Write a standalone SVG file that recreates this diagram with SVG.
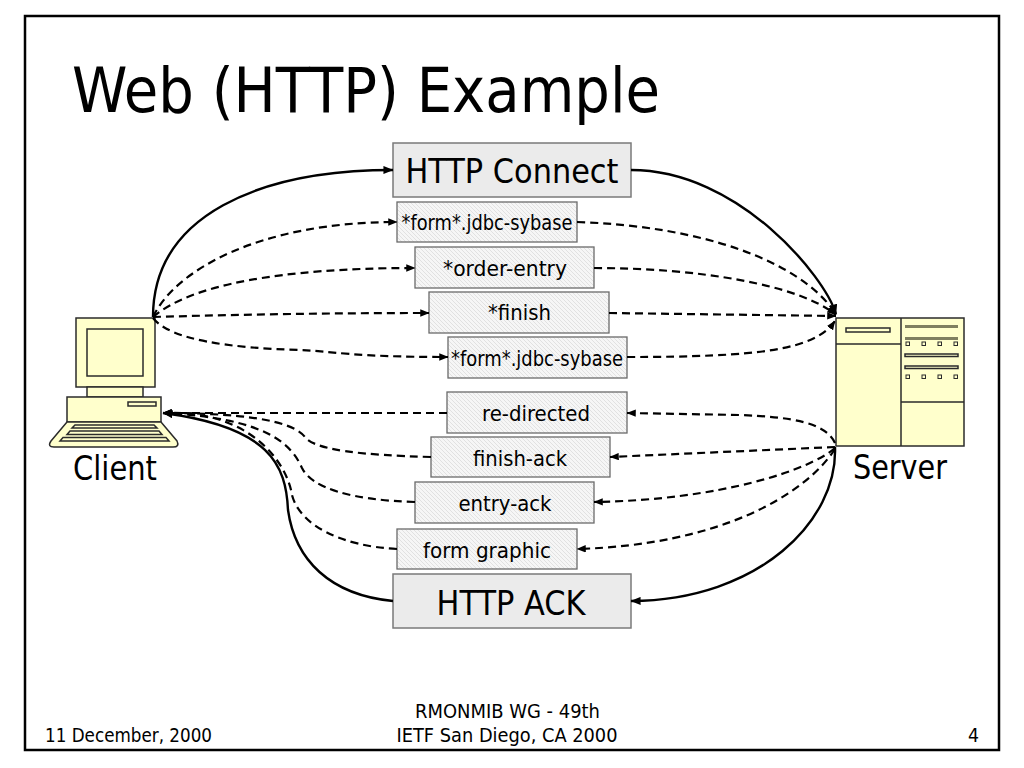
<svg xmlns="http://www.w3.org/2000/svg" width="1024" height="768" viewBox="0 0 1024 768">
<defs>
  <style>
    .t { font-family: "DejaVu Sans Condensed", "DejaVu Sans", Verdana, sans-serif; fill: #000; }
    .big { fill: #ebebeb; stroke: #7a7a7a; stroke-width: 1.5; }
    .small { fill: url(#hatch); stroke: #6a6a6a; stroke-width: 1.3; }
    .yel { fill: #ffffcc; stroke: #2b2b2b; stroke-width: 1.5; }
    .solid { fill: none; stroke: #000; stroke-width: 2.4; marker-end: url(#arr); }
    .dash { fill: none; stroke: #000; stroke-width: 2.2; stroke-dasharray: 8 5; marker-end: url(#arr); }
  </style>
  <pattern id="hatch" width="4" height="4" patternUnits="userSpaceOnUse">
    <rect width="4" height="4" fill="#f6f6f6"/>
    <path d="M-1,-1 L5,5 M-1,3 L1,5 M3,-1 L5,1" stroke="#dcdcdc" stroke-width="0.8"/>
  </pattern>
  <marker id="arr" viewBox="0 0 10 8" refX="9.5" refY="4" markerWidth="4.2" markerHeight="3.4" orient="auto" markerUnits="strokeWidth">
    <path d="M0,0 L10,4 L0,8 Z" fill="#000"/>
  </marker>
</defs>
<rect width="1024" height="768" fill="#fff"/>
<rect x="25" y="16" width="974" height="734" fill="none" stroke="#000" stroke-width="2.5"/>

<text class="t" x="72" y="112" font-size="62" textLength="588" lengthAdjust="spacingAndGlyphs">Web (HTTP) Example</text>

<g id="node-client">
  <rect class="yel" x="76" y="318" width="79" height="69"/>
  <rect class="yel" x="87" y="329" width="56" height="47"/>
  <rect class="yel" x="87" y="387" width="56" height="10"/>
  <rect class="yel" x="67" y="397" width="94" height="25"/>
  <rect class="yel" x="128" y="402" width="28" height="4" stroke-width="1.2"/>
  <path class="yel" d="M67,422 L161,422 L177,441 Q180,447 173,447 L54,447 Q47,447 51,441 Z"/>
  <path class="yel" stroke-width="1.1" d="M75,425 L154,425 L157,428 L72,428 Z M70,431 L159,431 L162,434.5 L67,434.5 Z M63,437.5 L166,437.5 L169,441 L60,441 Z"/>
  <text class="t" x="73" y="480" font-size="34" textLength="84" lengthAdjust="spacingAndGlyphs">Client</text>
</g>

<g id="node-server">
  <rect class="yel" x="836" y="318" width="128" height="128"/>
  <path d="M901,318 V446 M836,344 H901 M901,402 H964" stroke="#2b2b2b" stroke-width="1.5" fill="none"/>
  <rect class="yel" x="846" y="328" width="44" height="4" stroke-width="1.2"/>
  <rect x="905" y="325" width="53" height="3" fill="#7f7f5f"/>
  <rect x="905" y="337" width="53" height="3" fill="#7f7f5f"/>
  <rect class="yel" x="905" y="354" width="53" height="2.5" stroke-width="1"/>
  <rect class="yel" x="905" y="366" width="53" height="2.5" stroke-width="1"/>
  <g fill="#ffffcc" stroke="#2b2b2b" stroke-width="1">
    <rect x="906" y="342" width="3.5" height="3.5"/>
    <rect x="922" y="342" width="3.5" height="3.5"/>
    <rect x="938" y="342" width="3.5" height="3.5"/>
    <rect x="954" y="342" width="3.5" height="3.5"/>
    <rect x="906" y="375" width="3.5" height="3.5"/>
    <rect x="922" y="375" width="3.5" height="3.5"/>
    <rect x="938" y="375" width="3.5" height="3.5"/>
    <rect x="954" y="375" width="3.5" height="3.5"/>
  </g>
  <text class="t" x="853" y="479" font-size="34" textLength="94" lengthAdjust="spacingAndGlyphs">Server</text>
</g>

<g id="node-http-connect">
  <rect class="big" x="393" y="143" width="238" height="54"/>
  <text class="t" x="512" y="183" font-size="34" text-anchor="middle" textLength="213" lengthAdjust="spacingAndGlyphs">HTTP Connect</text>
</g>
<g id="node-form-req1">
  <rect class="small" x="397" y="202" width="180" height="40"/>
  <text class="t" x="487" y="230" font-size="21" text-anchor="middle" textLength="171" lengthAdjust="spacingAndGlyphs">*form*.jdbc-sybase</text>
</g>
<g id="node-order-entry">
  <rect class="small" x="415" y="247" width="179" height="41"/>
  <text class="t" x="505" y="276" font-size="22" text-anchor="middle" textLength="124" lengthAdjust="spacingAndGlyphs">*order-entry</text>
</g>
<g id="node-finish">
  <rect class="small" x="429" y="292" width="180" height="41"/>
  <text class="t" x="519.5" y="320" font-size="22" text-anchor="middle" textLength="63" lengthAdjust="spacingAndGlyphs">*finish</text>
</g>
<g id="node-form-req2">
  <rect class="small" x="448" y="337" width="179" height="41"/>
  <text class="t" x="537" y="366" font-size="21" text-anchor="middle" textLength="172" lengthAdjust="spacingAndGlyphs">*form*.jdbc-sybase</text>
</g>
<g id="node-re-directed">
  <rect class="small" x="447" y="392" width="180" height="41"/>
  <text class="t" x="536" y="421" font-size="22" text-anchor="middle" textLength="108" lengthAdjust="spacingAndGlyphs">re-directed</text>
</g>
<g id="node-finish-ack">
  <rect class="small" x="431" y="437" width="179" height="40"/>
  <text class="t" x="520" y="466" font-size="22" text-anchor="middle" textLength="94" lengthAdjust="spacingAndGlyphs">finish-ack</text>
</g>
<g id="node-entry-ack">
  <rect class="small" x="415" y="482" width="179" height="41"/>
  <text class="t" x="505" y="511" font-size="22" text-anchor="middle" textLength="93" lengthAdjust="spacingAndGlyphs">entry-ack</text>
</g>
<g id="node-form-graphic">
  <rect class="small" x="397" y="529" width="180" height="40"/>
  <text class="t" x="487" y="558" font-size="22" text-anchor="middle" textLength="128" lengthAdjust="spacingAndGlyphs">form graphic</text>
</g>
<g id="node-http-ack">
  <rect class="big" x="393" y="574" width="238" height="54"/>
  <text class="t" x="511" y="615" font-size="34" text-anchor="middle" textLength="149" lengthAdjust="spacingAndGlyphs">HTTP ACK</text>
</g>

<g id="connectors">
  <!-- client to request boxes -->
  <path class="solid" d="M153,317 C153,215 260,170 393,170"/>
  <path class="dash" d="M153,317 C175,270 260,222 397,222"/>
  <path class="dash" d="M153,317 C190,285 280,268 415,268"/>
  <path class="dash" d="M153,317 Q290,313 429,313"/>
  <path class="dash" d="M153,318 C170,340 230,348 300,350 C330,351 350,357 448,357"/>
  <!-- request boxes to server -->
  <path class="solid" d="M631,170 C739,170 825,277 836,314"/>
  <path class="dash" d="M577,222 C700,226 800,260 836,314"/>
  <path class="dash" d="M594,268 C700,268 800,285 836,315"/>
  <path class="dash" d="M609,313 L836,316"/>
  <path class="dash" d="M627,357 C760,357 815,350 835,321"/>
  <!-- server to response boxes -->
  <path class="dash" d="M835,443 C825,422 790,417 740,415 L627,413"/>
  <path class="dash" d="M835,447 L610,457"/>
  <path class="dash" d="M835,448 C810,470 720,500 594,502"/>
  <path class="dash" d="M835,449 C805,495 720,545 577,549"/>
  <path class="solid" d="M835,447 C838,520 760,600 631,601"/>
  <!-- response boxes to client -->
  <path class="dash" d="M447,413 L163,413"/>
  <path class="dash" d="M431,457 C360,455 315,450 305,437 C295,424 260,413 163,413"/>
  <path class="dash" d="M415,502 C350,500 312,488 302,468 C292,446 270,418 163,413"/>
  <path class="dash" d="M397,549 C340,546 300,525 292,495 C287,462 249,409 163,413"/>
  <path class="solid" d="M393,601 C330,595 295,560 288,510 C286,465 270,427 163,413"/>
</g>

<text class="t" x="45" y="742" font-size="19" textLength="167" lengthAdjust="spacingAndGlyphs">11 December, 2000</text>
<text class="t" x="507.5" y="718" font-size="19" text-anchor="middle" textLength="185" lengthAdjust="spacingAndGlyphs">RMONMIB WG - 49th</text>
<text class="t" x="507" y="742" font-size="19" text-anchor="middle" textLength="221" lengthAdjust="spacingAndGlyphs">IETF San Diego, CA 2000</text>
<text class="t" x="968" y="742" font-size="19" textLength="11" lengthAdjust="spacingAndGlyphs">4</text>
</svg>
